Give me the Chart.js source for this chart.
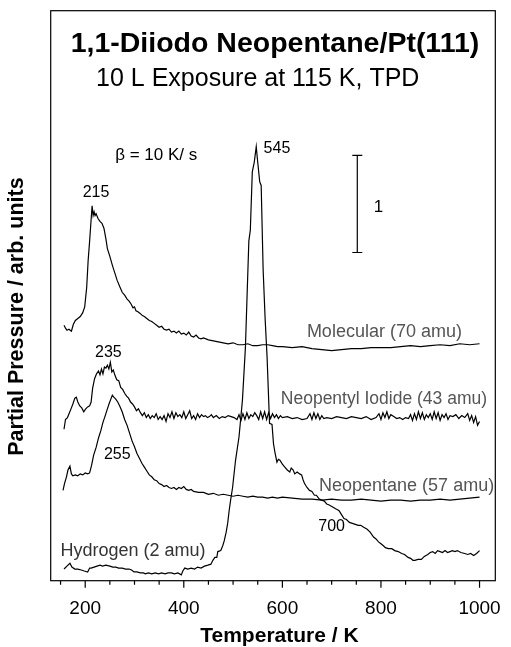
<!DOCTYPE html>
<html>
<head>
    <title>1,1-Diiodo Neopentane/Pt(111) TPD</title>
    <script src="https://cdn.jsdelivr.net/npm/chart.js"></script>
    <style>
        body {
            margin: 0;
            background: white;
        }
        #tpd {
            display: block;
        }
    </style>
</head>
<body>
    <canvas id="tpd" width="511" height="647"></canvas>
    <script>
        // temperature (K) and partial pressure (arb. units, scale bar = 1)
        const molecularT = [157,160,163,167,172,176,180,185,190,195,199,203,206,209,212,214,216,218,220,222,226,230,234,238,242,245,250,255,260,265,270,275,280,285,289,293,297,300,303,307,312,316,320,325,330,335,340,345,350,355,360,365,370,375,380,385,390,395,400,405,410,415,420,425,430,435,440,450,460,470,480,490,500,510,520,530,540,550,560,570,580,590,600,620,640,660,680,700,720,740,760,780,800,820,840,860,880,900,920,940,960,980,1000];
        const molecularP = [2.63,2.60,2.58,2.59,2.57,2.64,2.68,2.70,2.72,2.76,2.82,3.02,3.30,3.50,3.72,3.86,3.76,3.80,3.76,3.78,3.73,3.70,3.68,3.63,3.52,3.42,3.34,3.25,3.17,3.09,3.03,2.97,2.94,2.90,2.88,2.85,2.81,2.82,2.78,2.77,2.75,2.73,2.72,2.70,2.68,2.67,2.65,2.63,2.61,2.62,2.59,2.58,2.59,2.56,2.57,2.55,2.57,2.54,2.55,2.53,2.56,2.52,2.51,2.53,2.50,2.49,2.50,2.48,2.47,2.46,2.45,2.44,2.45,2.43,2.43,2.44,2.42,2.42,2.43,2.43,2.42,2.41,2.41,2.40,2.41,2.39,2.38,2.37,2.38,2.39,2.39,2.40,2.40,2.40,2.41,2.42,2.41,2.42,2.43,2.42,2.44,2.43,2.44];

        const iodideT = [157,160,164,168,172,175,179,182,185,189,193,197,201,205,209,212,215,219,223,227,230,233,236,239,242,245,248,251,254,257,260,264,268,272,276,280,284,288,292,296,300,304,308,312,316,320,324,328,332,336,340,344,348,352,356,360,364,368,372,376,380,384,388,392,396,400,404,408,412,416,420,424,428,432,436,440,444,448,452,456,460,466,472,478,484,490,496,502,508,512,516,520,524,528,532,536,540,544,548,552,556,560,564,568,572,576,580,584,588,592,596,600,610,620,630,640,650,656,660,664,668,672,676,680,684,690,700,710,720,730,740,750,760,770,780,790,796,800,804,808,812,816,820,826,832,838,844,850,856,860,864,868,872,876,880,884,888,892,896,900,904,908,912,916,920,924,928,932,936,940,946,952,958,964,970,976,980,984,988,992,996,1000];
        const iodideP = [1.56,1.66,1.68,1.73,1.78,1.82,1.88,1.89,1.84,1.80,1.78,1.74,1.77,1.79,1.80,1.84,1.98,2.08,2.13,2.16,2.12,2.18,2.13,2.20,2.19,2.22,2.18,2.25,2.15,2.17,2.12,2.07,2.06,1.99,1.97,1.93,1.90,1.88,1.84,1.82,1.79,1.75,1.77,1.73,1.70,1.73,1.68,1.71,1.67,1.70,1.68,1.72,1.66,1.69,1.66,1.70,1.64,1.72,1.68,1.74,1.67,1.73,1.69,1.71,1.68,1.74,1.67,1.71,1.75,1.67,1.70,1.66,1.72,1.68,1.71,1.69,1.70,1.68,1.69,1.71,1.68,1.70,1.67,1.69,1.68,1.70,1.69,1.68,1.66,1.71,1.65,1.72,1.66,1.73,1.67,1.71,1.69,1.73,1.70,1.66,1.74,1.67,1.74,1.66,1.73,1.67,1.72,1.68,1.71,1.67,1.70,1.68,1.69,1.67,1.68,1.66,1.67,1.72,1.66,1.73,1.67,1.72,1.66,1.70,1.67,1.68,1.67,1.69,1.68,1.67,1.69,1.68,1.67,1.69,1.66,1.68,1.72,1.66,1.73,1.68,1.74,1.67,1.71,1.69,1.67,1.68,1.66,1.68,1.67,1.71,1.65,1.72,1.66,1.74,1.67,1.73,1.66,1.71,1.68,1.72,1.66,1.74,1.67,1.73,1.65,1.71,1.68,1.72,1.66,1.70,1.69,1.71,1.67,1.70,1.68,1.72,1.65,1.70,1.63,1.69,1.60,1.64];

        const neopentaneT = [155,158,162,165,169,172,175,180,185,190,195,200,205,209,213,217,222,227,232,236,240,245,249,252,255,258,262,266,270,275,280,285,290,295,300,305,310,315,320,325,330,335,340,345,350,355,360,365,370,375,380,385,390,395,400,405,410,415,420,430,440,450,460,470,480,490,500,510,520,530,540,550,560,570,580,590,600,620,640,660,680,700,720,740,760,780,800,820,840,860,880,900,920,940,960,980,1000];
        const neopentaneP = [0.93,1.00,1.07,1.14,1.18,1.10,1.08,1.09,1.08,1.10,1.09,1.11,1.10,1.11,1.19,1.29,1.37,1.47,1.55,1.63,1.69,1.77,1.83,1.87,1.91,1.89,1.87,1.84,1.80,1.74,1.66,1.60,1.52,1.44,1.38,1.31,1.26,1.21,1.17,1.13,1.09,1.07,1.04,1.03,1.00,0.99,0.97,0.98,0.96,0.95,0.96,0.94,0.96,0.95,0.97,0.94,0.93,0.94,0.92,0.91,0.91,0.89,0.90,0.88,0.89,0.88,0.87,0.88,0.87,0.86,0.87,0.86,0.86,0.85,0.86,0.85,0.86,0.85,0.84,0.84,0.83,0.84,0.83,0.83,0.84,0.83,0.82,0.83,0.83,0.82,0.83,0.83,0.84,0.83,0.84,0.85,0.86];

        const hydrogenT = [157,163,169,173,179,185,192,198,205,209,212,218,224,230,235,242,250,256,262,268,275,282,289,294,299,305,312,318,322,328,335,342,349,355,362,368,375,381,388,395,398,402,408,415,422,428,435,442,449,455,459,463,467,469,475,479,482,486,489,492,495,499,505,512,519,525,532,535,539,543,547,550,554,557,561,565,569,574,579,582,585,589,592,595,600,605,610,615,618,622,625,630,635,639,642,645,650,655,660,665,669,675,680,685,690,695,702,708,712,715,720,725,730,736,742,748,754,759,765,772,778,785,790,795,800,805,809,815,822,828,835,842,848,855,860,865,869,875,882,888,895,900,905,910,915,920,925,930,935,940,945,950,955,962,970,976,982,988,994,1000];
        const hydrogenP = [0.12,0.15,0.18,0.14,0.12,0.12,0.11,0.10,0.09,0.13,0.13,0.14,0.15,0.16,0.15,0.16,0.15,0.14,0.14,0.13,0.13,0.12,0.12,0.11,0.09,0.09,0.08,0.08,0.07,0.08,0.07,0.08,0.07,0.08,0.07,0.08,0.08,0.07,0.08,0.06,0.10,0.13,0.12,0.13,0.12,0.14,0.13,0.15,0.16,0.17,0.21,0.24,0.24,0.30,0.31,0.36,0.41,0.50,0.59,0.72,0.83,0.96,1.24,1.48,1.86,2.40,3.50,3.61,4.21,4.31,4.47,4.31,4.11,4.07,3.20,2.70,2.30,1.62,1.61,1.41,1.32,1.22,1.25,1.24,1.20,1.17,1.14,1.12,1.16,1.14,1.10,1.12,1.10,1.09,1.04,1.00,0.96,0.93,0.92,0.88,0.88,0.84,0.83,0.82,0.79,0.78,0.76,0.74,0.73,0.72,0.68,0.64,0.63,0.60,0.59,0.58,0.57,0.57,0.55,0.53,0.50,0.45,0.43,0.40,0.38,0.36,0.34,0.33,0.33,0.31,0.30,0.28,0.27,0.24,0.23,0.21,0.21,0.22,0.22,0.25,0.27,0.29,0.30,0.28,0.31,0.30,0.29,0.31,0.29,0.30,0.31,0.30,0.31,0.29,0.28,0.27,0.28,0.26,0.28,0.31];

        const majorTicks = [200, 400, 600, 800, 1000];
        const minorTicks = [150, 250, 300, 350, 450, 500, 550, 650, 700, 750, 850, 900, 950];

        // scale bar of 1 unit at 752 K
        const scaleBarT = 752;
        const scaleBarP = [3.38, 4.38];

        // [text, T, P, size, weight, colour]
        const labels = [
            ['1,1-Diiodo Neopentane/Pt(111)', 585, 5.53, 28.5, 'bold', '#000'],
            ['10 L Exposure at 115 K, TPD', 550, 5.165, 25, 'normal', '#000'],
            ['\u03b2 = 10 K/ s', 344, 4.38, 17, 'normal', '#000'],
            ['215', 222, 4.0, 16, 'normal', '#000'],
            ['545', 589, 4.45, 16, 'normal', '#000'],
            ['235', 247, 2.35, 16, 'normal', '#000'],
            ['255', 265, 1.30, 16, 'normal', '#000'],
            ['700', 700, 0.557, 16, 'normal', '#000'],
            ['1', 795, 3.85, 17, 'normal', '#000'],
            ['Molecular (70 amu)', 807, 2.56, 18, 'normal', '#555'],
            ['Neopentyl Iodide (43 amu)', 806, 1.87, 17.5, 'normal', '#555'],
            ['Neopentane (57 amu)', 852, 0.98, 18, 'normal', '#555'],
            ['Hydrogen (2 amu)', 297, 0.31, 18, 'normal', '#333']
        ];

        const fontName = "'Liberation Sans', Arial, Helvetica, sans-serif";

        function toPoints(ts, ps) {
            return ts.map((t, i) => ({ x: t, y: ps[i] }));
        }

        function trace(ts, ps) {
            return {
                data: toPoints(ts, ps),
                borderColor: '#000',
                borderWidth: 1.2,
                pointRadius: 0,
                tension: 0,
                fill: false
            };
        }

        const decorPlugin = {
            id: 'decor',
            afterDraw(chart) {
                const ctx = chart.ctx;
                const area = chart.chartArea;
                const xs = chart.scales.x;
                const ys = chart.scales.y;
                ctx.save();

                // frame
                ctx.strokeStyle = '#000';
                ctx.lineWidth = 1.2;
                ctx.strokeRect(area.left, area.top, area.right - area.left, area.bottom - area.top);

                // x ticks, long for labelled ones
                ctx.beginPath();
                majorTicks.forEach(v => {
                    const px = xs.getPixelForValue(v);
                    ctx.moveTo(px, area.bottom);
                    ctx.lineTo(px, area.bottom + 7);
                });
                minorTicks.forEach(v => {
                    const px = xs.getPixelForValue(v);
                    ctx.moveTo(px, area.bottom);
                    ctx.lineTo(px, area.bottom + 4);
                });
                ctx.stroke();

                // labels inside the plot
                ctx.textAlign = 'center';
                ctx.textBaseline = 'middle';
                labels.forEach(l => {
                    ctx.font = l[4] + ' ' + l[3] + 'px ' + fontName;
                    ctx.fillStyle = l[5];
                    ctx.fillText(l[0], xs.getPixelForValue(l[1]), ys.getPixelForValue(l[2]));
                });

                // axis titles
                ctx.fillStyle = '#000';
                ctx.font = 'bold 21px ' + fontName;
                ctx.fillText('Temperature / K', xs.getPixelForValue(594), 636);
                ctx.font = 'bold 21.5px ' + fontName;
                ctx.translate(17, ys.getPixelForValue(2.72));
                ctx.rotate(-Math.PI / 2);
                ctx.fillText('Partial Pressure / arb. units', 0, 0);
                ctx.restore();
            }
        };

        const scaleBar = {
            data: [{ x: scaleBarT, y: scaleBarP[0] }, { x: scaleBarT, y: scaleBarP[1] }],
            borderColor: '#000',
            borderWidth: 1.2,
            pointStyle: 'line',
            pointRadius: 5,
            pointBorderWidth: 1.2,
            pointBorderColor: '#000',
            tension: 0
        };

        new Chart(document.getElementById('tpd'), {
            type: 'line',
            data: {
                datasets: [
                    trace(molecularT, molecularP),
                    trace(iodideT, iodideP),
                    trace(neopentaneT, neopentaneP),
                    trace(hydrogenT, hydrogenP),
                    scaleBar
                ]
            },
            options: {
                responsive: false,
                animation: false,
                layout: { padding: { top: 10.7, right: 9.3, left: 0, bottom: 0 } },
                plugins: {
                    legend: { display: false },
                    tooltip: { enabled: false }
                },
                scales: {
                    x: {
                        type: 'linear',
                        min: 130,
                        max: 1032,
                        afterBuildTicks: s => { s.ticks = majorTicks.map(v => ({ value: v })); },
                        afterFit: s => { s.height = 66.3; },
                        grid: { drawOnChartArea: false, drawTicks: true, tickLength: 7, tickColor: 'transparent' },
                        border: { display: false },
                        ticks: {
                            color: '#000',
                            padding: 10,
                            maxRotation: 0,
                            font: { family: fontName, size: 19 },
                            callback: v => String(v)
                        }
                    },
                    y: {
                        type: 'linear',
                        min: 0,
                        max: 5.87,
                        afterFit: s => { s.width = 50.7; },
                        grid: { display: false },
                        border: { display: false },
                        ticks: { display: false }
                    }
                }
            },
            plugins: [decorPlugin]
        });
    </script>
</body>
</html>
